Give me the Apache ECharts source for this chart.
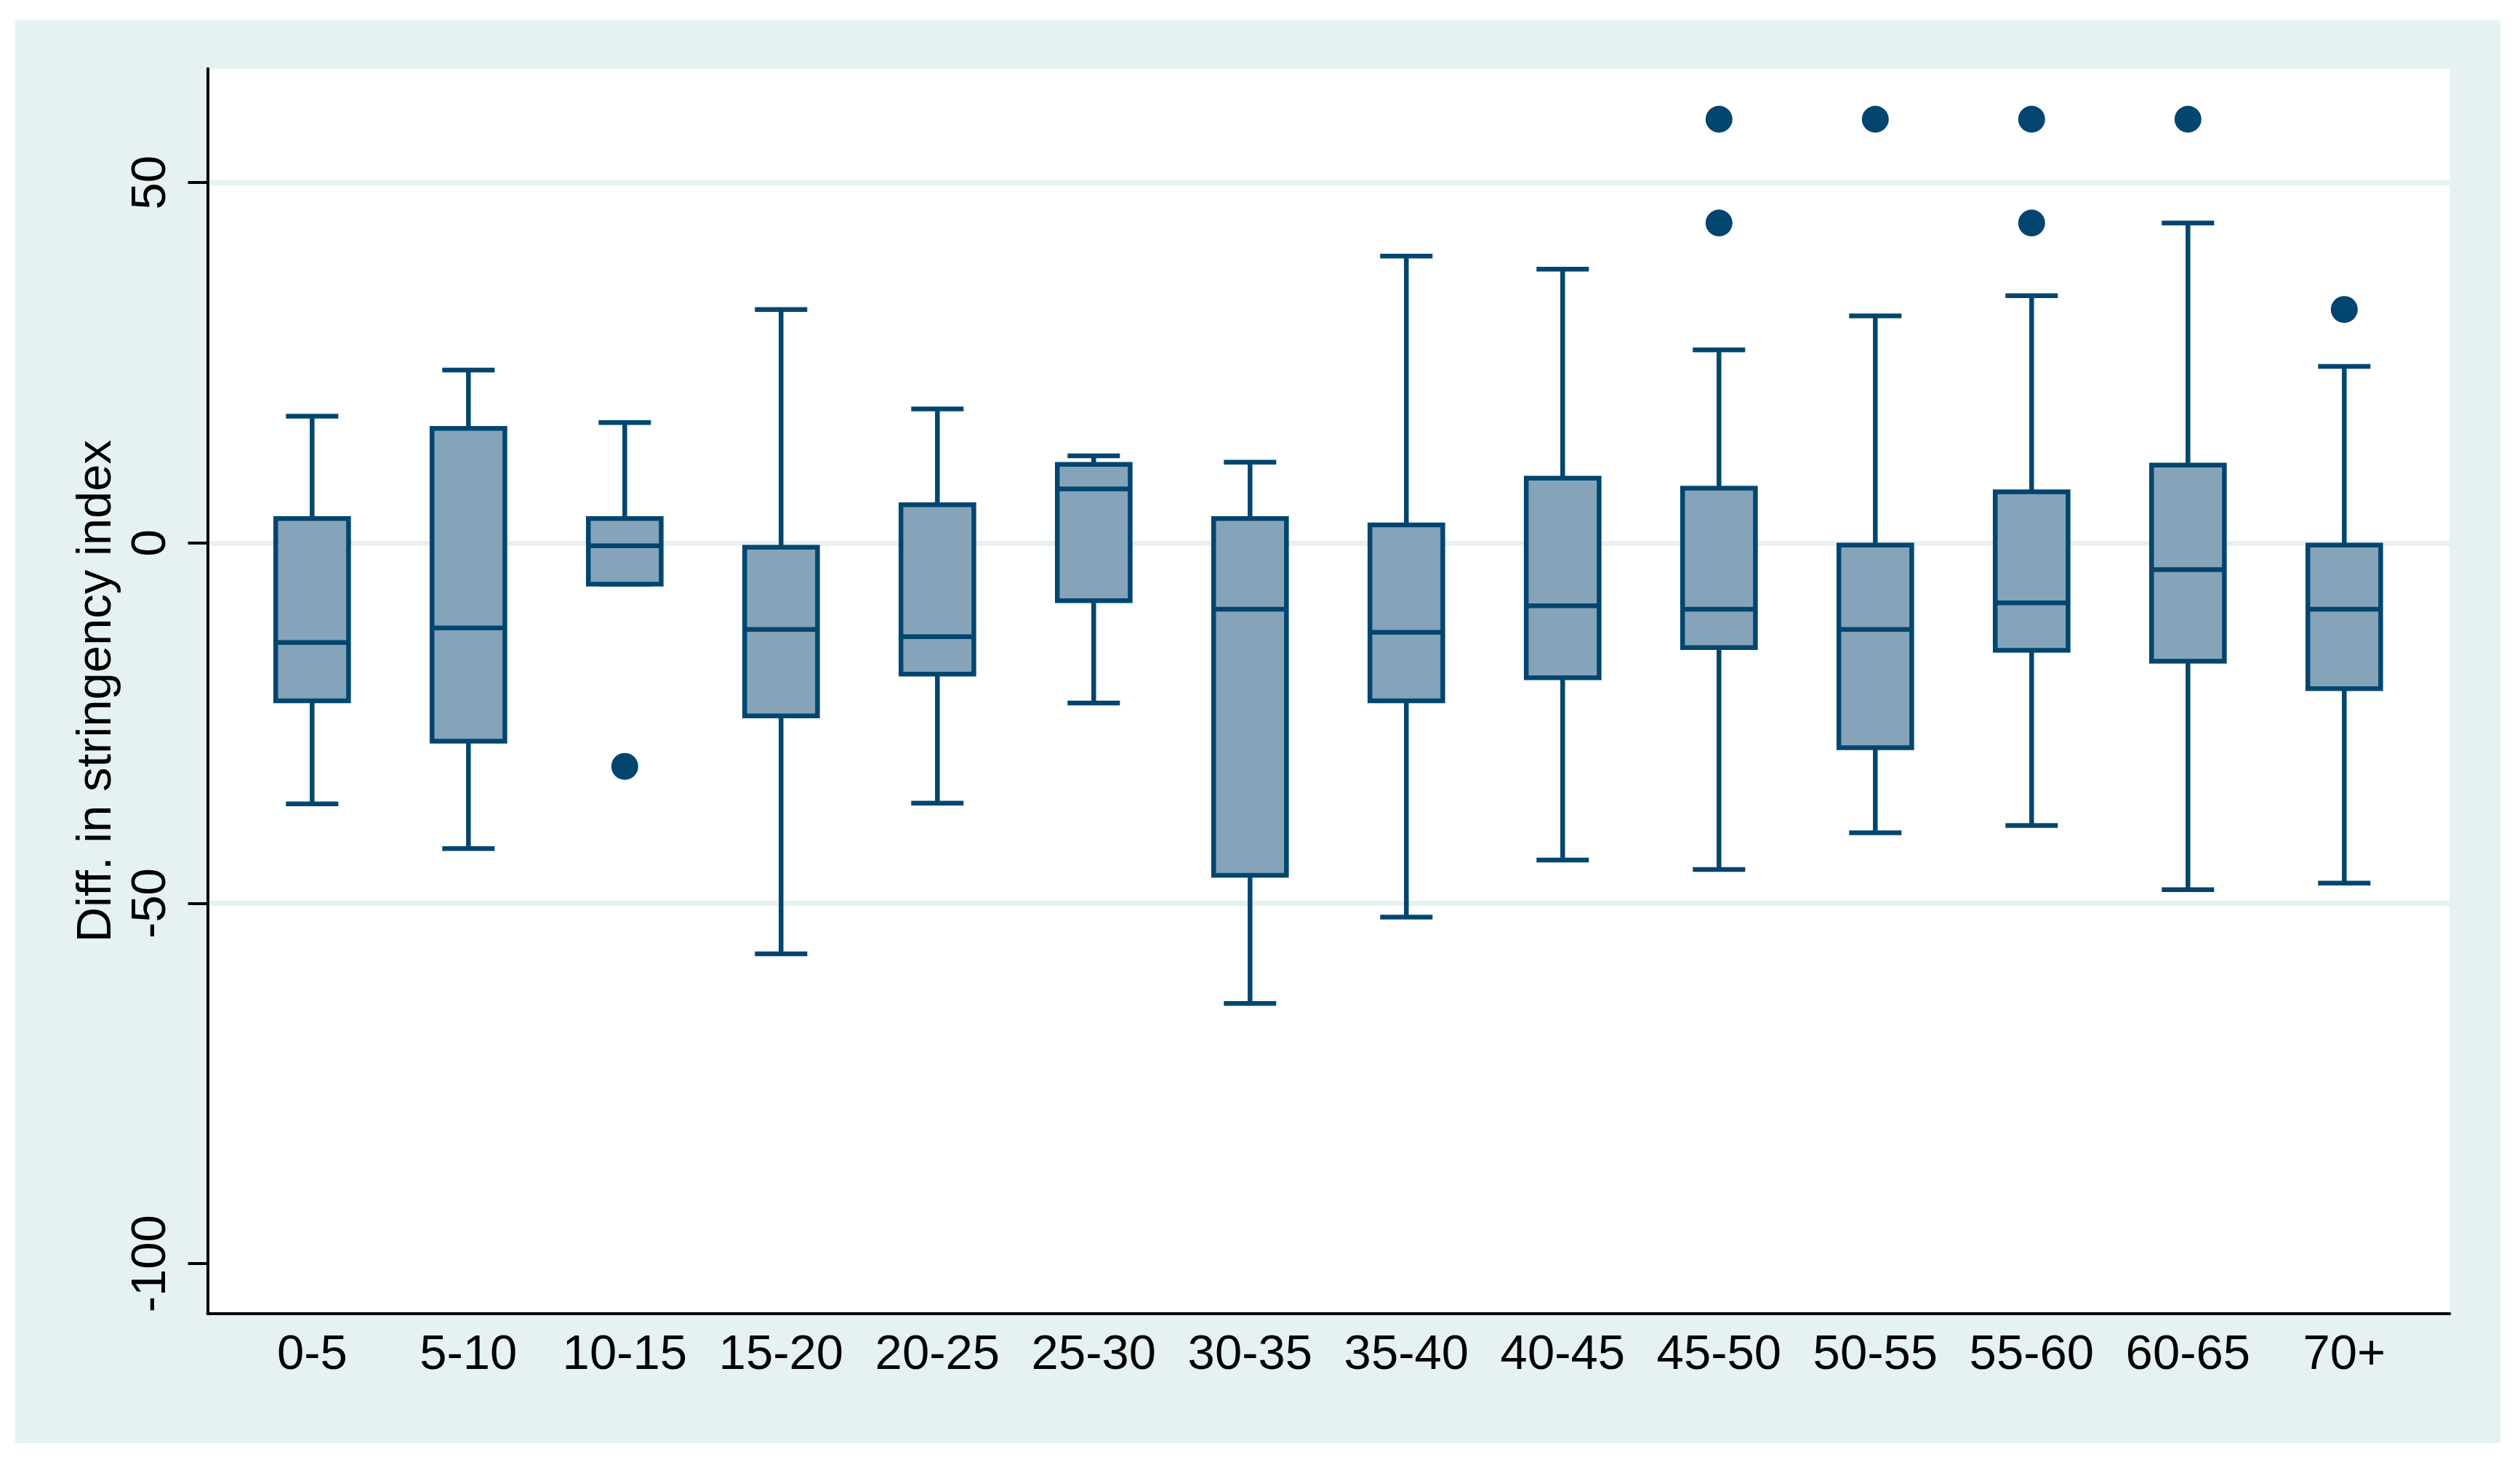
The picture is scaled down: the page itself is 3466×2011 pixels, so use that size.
<!DOCTYPE html>
<html>
<head>
<meta charset="utf-8">
<script src="https://cdn.jsdelivr.net/npm/echarts@6/dist/echarts.min.js"></script>
<style>
html,body{margin:0;padding:0;background:#ffffff;}
#c{width:3466px;height:2011px;}
</style>
</head>
<body>
<div id="c"></div>
<script>
// ---- data ----
const categories   = ['0-5','5-10','10-15','15-20','20-25','25-30','30-35','35-40','40-45','45-50','50-55','55-60','60-65','70+'];
const whiskerLow   = [-36.2, -42.4, -5.7, -57.0, -36.1, -22.2, -63.9, -51.9, -44.0, -45.3, -40.2, -39.2, -48.1, -47.2];
const quartile1    = [-21.9, -27.5, -5.7, -24.0, -18.2,  -8.0, -46.1, -21.9, -18.7, -14.5, -28.4, -14.9, -16.4, -20.2];
const medians      = [-13.8, -11.8, -0.4, -12.0, -13.0,   7.5,  -9.2, -12.4,  -8.7,  -9.2, -12.0,  -8.3,  -3.7,  -9.2];
const quartile3    = [  3.4,  15.9,  3.4,  -0.6,   5.3,  10.9,   3.4,   2.5,   9.0,   7.6,  -0.3,   7.1,  10.8,  -0.3];
const whiskerHigh  = [ 17.6,  24.0, 16.7,  32.4,  18.6,  12.1,  11.2,  39.8,  38.0,  26.8,  31.5,  34.3,  44.4,  24.5];
const outlierCategory = ['10-15','45-50','45-50','50-55','55-60','55-60','60-65','70+'];
const outlierValue    = [-31.0,   58.8,   44.4,   58.8,   58.8,   44.4,   58.8,  32.4];
const yTickValues = [-100, -50, 0, 50];
const gridLineValues = [-50, 0, 50];
const yMin = -106.9, yMax = 65.8;
const yTitle = 'Diff. in stringency index';

// ---- styles ----
const NAVY = '#02466f';
const FILL = '#85a4b9';
const BG = '#e6f1f1';
const FONT = "'Liberation Sans', Arial, Helvetica, sans-serif";

const boxData = categories.map((c, i) => [i, whiskerLow[i], quartile1[i], medians[i], quartile3[i], whiskerHigh[i]]);
const outlierData = outlierCategory.map((c, i) => [categories.indexOf(c), outlierValue[i]]);

const chart = echarts.init(document.getElementById('c'), null, {renderer: 'canvas'});

const plotTop = 94.6, plotBottom = 2011 - 1806.6;

chart.setOption({
  backgroundColor: '#ffffff',
  animation: false,
  graphic: [
    {type: 'rect', z: -10, shape: {x: 21, y: 28, width: 3418, height: 1957}, style: {fill: BG}},
    {type: 'rect', z: -9, shape: {x: 285.5, y: plotTop, width: 3083.8, height: 1806.6 - plotTop}, style: {fill: '#ffffff'}}
  ],
  grid: [
    {left: 285.5, width: 3083.8, top: plotTop, bottom: plotBottom, containLabel: false, outerBoundsMode: 'none'},
    {left: 321.8, width: 3010, top: plotTop, bottom: plotBottom, containLabel: false, outerBoundsMode: 'none'}
  ],
  xAxis: [
    {gridIndex: 0, type: 'value', min: 0, max: 1,
     axisLine: {show: true, onZero: false, lineStyle: {color: '#000', width: 4}},
     axisTick: {show: false}, axisLabel: {show: false}, splitLine: {show: false}},
    {gridIndex: 1, type: 'category', data: categories, boundaryGap: true,
     axisLine: {show: false}, axisTick: {show: false}, splitLine: {show: false},
     axisLabel: {show: true, interval: 0, margin: 24, fontSize: 67, color: '#000', fontFamily: FONT}}
  ],
  yAxis: [
    {gridIndex: 0, type: 'value', min: yMin, max: yMax, z: 3,
     axisLine: {show: true, onZero: false, lineStyle: {color: '#000', width: 4}},
     axisTick: {show: true, length: 27, customValues: yTickValues, lineStyle: {color: '#000', width: 4}},
     axisLabel: {show: true, customValues: yTickValues, rotate: 90, margin: 43, fontSize: 67, color: '#000', fontFamily: FONT},
     splitLine: {show: false},
     name: yTitle, nameLocation: 'middle', nameGap: 118,
     nameTextStyle: {fontSize: 67, color: '#000', fontFamily: FONT}},
    {gridIndex: 1, type: 'value', min: yMin, max: yMax, show: false,
     axisLine: {show: false}, axisTick: {show: false}, axisLabel: {show: false}, splitLine: {show: false}},
    {gridIndex: 0, type: 'value', min: yMin, max: yMax, z: 0,
     axisLine: {show: false, onZero: false}, axisLabel: {show: false, customValues: gridLineValues},
     axisTick: {show: false, customValues: gridLineValues},
     splitLine: {show: true, lineStyle: {color: BG, width: 7}}}
  ],
  series: [
    {
      type: 'custom',
      xAxisIndex: 1, yAxisIndex: 1,
      data: boxData,
      encode: {x: 0, y: [1, 2, 3, 4, 5]},
      renderItem: function (params, api) {
        const x = api.value(0);
        const lo = api.coord([x, api.value(1)]);
        const b1 = api.coord([x, api.value(2)]);
        const md = api.coord([x, api.value(3)]);
        const b3 = api.coord([x, api.value(4)]);
        const hi = api.coord([x, api.value(5)]);
        const band = api.size([1, 0])[0];
        const bw = band * 0.466;
        const cw = band * 0.335;
        const cx = lo[0];
        const ls = {stroke: NAVY, lineWidth: 6.5, fill: null};
        return {
          type: 'group',
          children: [
            {type: 'line', shape: {x1: cx, y1: hi[1], x2: cx, y2: b3[1]}, style: ls},
            {type: 'line', shape: {x1: cx, y1: b1[1], x2: cx, y2: lo[1]}, style: ls},
            {type: 'line', shape: {x1: cx - cw / 2, y1: hi[1], x2: cx + cw / 2, y2: hi[1]}, style: ls},
            {type: 'line', shape: {x1: cx - cw / 2, y1: lo[1], x2: cx + cw / 2, y2: lo[1]}, style: ls},
            {type: 'rect', shape: {x: cx - bw / 2, y: b3[1], width: bw, height: b1[1] - b3[1]},
             style: {fill: FILL, stroke: NAVY, lineWidth: 6.5}},
            {type: 'line', shape: {x1: cx - bw / 2, y1: md[1], x2: cx + bw / 2, y2: md[1]}, style: ls}
          ]
        };
      }
    },
    {
      type: 'scatter',
      xAxisIndex: 1, yAxisIndex: 1,
      data: outlierData,
      symbol: 'circle', symbolSize: 37,
      itemStyle: {color: NAVY, opacity: 1}
    }
  ]
});
</script>
</body>
</html>
